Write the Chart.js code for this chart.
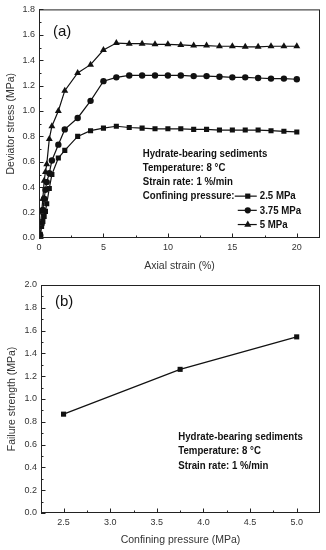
<!DOCTYPE html>
<html>
<head>
<meta charset="utf-8">
<script src="https://cdn.jsdelivr.net/npm/chart.js@4.4.1/dist/chart.umd.min.js"></script>
<style>
  html, body { margin: 0; padding: 0; background: #fff; }
  .box { position: absolute; left: 0; width: 326px; height: 275px; }
  #topBox { top: 0; }
  #bottomBox { top: 275px; }
</style>
</head>
<body>
<div class="box" id="topBox"><canvas id="stressChart"></canvas></div>
<div class="box" id="bottomBox"><canvas id="strengthChart"></canvas></div>
<script>
// (a) deviator stress vs axial strain
const axialStrain = [0.1, 0.2, 0.3, 0.4, 0.5, 0.6, 0.8, 1, 1.5, 2, 3, 4, 5, 6, 7, 8, 9, 10, 11, 12, 13, 14, 15, 16, 17, 18, 19, 20];
const stress25 = [0.03, 0.09, 0.13, 0.17, 0.21, 0.27, 0.39, 0.50, 0.63, 0.69, 0.80, 0.845, 0.865, 0.88, 0.87, 0.865, 0.86, 0.86, 0.86, 0.855, 0.855, 0.85, 0.85, 0.85, 0.85, 0.845, 0.84, 0.835];
const stress375 = [0.02, 0.11, 0.22, 0.31, 0.38, 0.44, 0.51, 0.61, 0.735, 0.855, 0.945, 1.08, 1.235, 1.265, 1.28, 1.28, 1.28, 1.28, 1.28, 1.275, 1.275, 1.27, 1.265, 1.265, 1.26, 1.255, 1.255, 1.25];
const stress5 = [0.09, 0.2, 0.31, 0.45, 0.52, 0.58, 0.78, 0.88, 1.0, 1.16, 1.30, 1.365, 1.48, 1.535, 1.53, 1.53, 1.525, 1.525, 1.52, 1.515, 1.515, 1.51, 1.51, 1.505, 1.505, 1.51, 1.51, 1.51];
const seriesLabels = ['2.5 MPa', '3.75 MPa', '5 MPa'];
const strainTicks = [0, 5, 10, 15, 20];
const stressTicks = [0, 0.2, 0.4, 0.6, 0.8, 1.0, 1.2, 1.4, 1.6, 1.8];

// (b) failure strength vs confining pressure
const confiningPressure = [2.5, 3.75, 5.0];
const failureStrength = [0.867, 1.26, 1.545];
const pressureTicks = [2.5, 3.0, 3.5, 4.0, 4.5, 5.0];
const strengthTicks = [0, 0.2, 0.4, 0.6, 0.8, 1.0, 1.2, 1.4, 1.6, 1.8, 2.0];

const FONT = "'Liberation Sans', Arial, sans-serif";
const INK = '#111';

function toPoints(xs, ys) {
    return xs.map((x, i) => ({ x: x, y: ys[i] }));
}

function minorsOf(ticks) {
    const out = [];
    for (let i = 0; i < ticks.length - 1; i++) out.push((ticks[i] + ticks[i + 1]) / 2);
    return out;
}

// draw a marker by hand for the legend
function marker(ctx, style, x, y) {
    ctx.beginPath();
    if (style === 'rect') {
        ctx.rect(x - 2.6, y - 2.6, 5.2, 5.2);
    } else if (style === 'circle') {
        ctx.arc(x, y, 3.1, 0, Math.PI * 2);
    } else {
        ctx.moveTo(x, y - 4);
        ctx.lineTo(x + 3.5, y + 2.2);
        ctx.lineTo(x - 3.5, y + 2.2);
        ctx.closePath();
    }
    ctx.fill();
}

// narrow bold text like the original figure
function narrowText(ctx, text, x, y) {
    ctx.save();
    ctx.translate(x, y);
    ctx.scale(0.84, 1);
    ctx.fillText(text, 0, 0);
    ctx.restore();
}

// frame, inward ticks, panel letter and notes
const framePlugin = {
    id: 'frame',
    afterDraw(chart, args, opts) {
        const ctx = chart.ctx;
        const area = chart.chartArea;
        const xs = chart.scales.x;
        const ys = chart.scales.y;
        ctx.save();
        ctx.strokeStyle = '#222';
        ctx.lineWidth = 1;
        ctx.strokeRect(area.left + 0.5, area.top + 0.5, area.right - area.left - 1, area.bottom - area.top - 1);

        ctx.beginPath();
        opts.xMajor.forEach(v => {
            const px = Math.round(xs.getPixelForValue(v)) + 0.5;
            ctx.moveTo(px, area.bottom); ctx.lineTo(px, area.bottom - 4.5);
        });
        opts.xMinor.forEach(v => {
            const px = Math.round(xs.getPixelForValue(v)) + 0.5;
            ctx.moveTo(px, area.bottom); ctx.lineTo(px, area.bottom - 2.5);
        });
        opts.yMajor.forEach(v => {
            const py = Math.round(ys.getPixelForValue(v)) + 0.5;
            ctx.moveTo(area.left, py); ctx.lineTo(area.left + 4.5, py);
        });
        opts.yMinor.forEach(v => {
            const py = Math.round(ys.getPixelForValue(v)) + 0.5;
            ctx.moveTo(area.left, py); ctx.lineTo(area.left + 2.5, py);
        });
        ctx.stroke();

        // panel letter
        ctx.fillStyle = INK;
        ctx.font = '15px ' + FONT;
        ctx.textBaseline = 'middle';
        ctx.textAlign = 'left';
        ctx.fillText(opts.letter, area.left + 14, area.top + opts.letterDy);

        // notes
        ctx.font = 'bold 11.5px ' + FONT;
        const nx = xs.getPixelForValue(opts.noteX);
        const ny = ys.getPixelForValue(opts.noteY);
        opts.notes.forEach((t, i) => narrowText(ctx, t, nx, ny + i * 14.2));

        // legend rows, first one sits on the "Confining pressure:" line
        if (opts.legend) {
            const lx = nx + 95;
            chart.data.datasets.forEach((ds, i) => {
                const y = ny + (opts.notes.length - 1 + i) * 14.2;
                const x0 = i === 0 ? lx - 3 : lx;
                ctx.strokeStyle = INK;
                ctx.lineWidth = 1.2;
                ctx.beginPath();
                ctx.moveTo(x0, y); ctx.lineTo(lx + 19, y);
                ctx.stroke();
                ctx.fillStyle = INK;
                marker(ctx, ds.pointStyle, lx + 10, y);
                narrowText(ctx, ds.label, lx + 22, y);
            });
        }
        ctx.restore();
    }
};

function lineSet(label, data, style, radius) {
    return {
        label: label,
        data: data,
        borderColor: INK,
        backgroundColor: INK,
        borderWidth: 1.2,
        pointStyle: style,
        pointRadius: radius,
        pointBorderWidth: 0,
        pointBackgroundColor: INK,
        tension: 0
    };
}

function axisTicks(list, digits) {
    return {
        afterBuildTicks: s => { s.ticks = list.map(v => ({ value: v })); },
        ticks: {
            color: '#333',
            font: { family: FONT, size: 9 },
            padding: 4,
            autoSkip: false,
            maxRotation: 0,
            callback: v => Number(v).toFixed(digits)
        }
    };
}

new Chart(document.getElementById('stressChart'), {
    type: 'line',
    data: {
        datasets: [
            lineSet(seriesLabels[0], toPoints(axialStrain, stress25), 'rect', 3.6),
            lineSet(seriesLabels[1], toPoints(axialStrain, stress375), 'circle', 3.2),
            lineSet(seriesLabels[2], toPoints(axialStrain, stress5), 'triangle', 4)
        ]
    },
    options: {
        responsive: true,
        maintainAspectRatio: false,
        animation: false,
        layout: { padding: { top: 8, right: 6, left: 0, bottom: 0 } },
        plugins: {
            legend: { display: false },
            tooltip: { enabled: false },
            frame: {
                letter: '(a)',
                letterDy: 22,
                xMajor: strainTicks,
                xMinor: minorsOf(strainTicks),
                yMajor: stressTicks,
                yMinor: minorsOf(stressTicks),
                noteX: 8.05,
                noteY: 0.665,
                notes: ['Hydrate-bearing sediments', 'Temperature: 8 \u00B0C', 'Strain rate: 1 %/min', 'Confining pressure:'],
                legend: true
            }
        },
        scales: {
            x: Object.assign({
                type: 'linear',
                min: 0,
                max: 21.8,
                grid: { display: false, drawTicks: false },
                border: { display: false },
                afterFit: s => { s.height = 37; },
                title: { display: true, text: 'Axial strain (%)', color: '#333', font: { family: FONT, size: 10.5 }, padding: { top: 0, bottom: 3 } }
            }, axisTicks(strainTicks, 0)),
            y: Object.assign({
                min: 0,
                max: 1.8,
                grid: { display: false, drawTicks: false },
                border: { display: false },
                afterFit: s => { s.width = 39; },
                title: { display: true, text: 'Deviator stress (MPa)', color: '#333', font: { family: FONT, size: 10.5 }, padding: { top: 5, bottom: 0 } }
            }, axisTicks(stressTicks, 1))
        }
    },
    plugins: [framePlugin]
});

new Chart(document.getElementById('strengthChart'), {
    type: 'line',
    data: {
        datasets: [
            lineSet('Failure strength', toPoints(confiningPressure, failureStrength), 'rect', 3.6)
        ]
    },
    options: {
        responsive: true,
        maintainAspectRatio: false,
        animation: false,
        layout: { padding: { top: 10, right: 6, left: 0, bottom: 0 } },
        plugins: {
            legend: { display: false },
            tooltip: { enabled: false },
            frame: {
                letter: '(b)',
                letterDy: 17,
                xMajor: pressureTicks,
                xMinor: minorsOf(pressureTicks),
                yMajor: strengthTicks,
                yMinor: minorsOf(strengthTicks),
                noteX: 3.73,
                noteY: 0.666,
                notes: ['Hydrate-bearing sediments', 'Temperature: 8 \u00B0C', 'Strain rate: 1 %/min'],
                legend: false
            }
        },
        scales: {
            x: Object.assign({
                type: 'linear',
                min: 2.258,
                max: 5.25,
                grid: { display: false, drawTicks: false },
                border: { display: false },
                afterFit: s => { s.height = 37; },
                title: { display: true, text: 'Confining pressure (MPa)', color: '#333', font: { family: FONT, size: 10.5 }, padding: { top: 0, bottom: 4 } }
            }, axisTicks(pressureTicks, 1)),
            y: Object.assign({
                min: 0,
                max: 2.0,
                grid: { display: false, drawTicks: false },
                border: { display: false },
                afterFit: s => { s.width = 41; },
                title: { display: true, text: 'Failure strength (MPa)', color: '#333', font: { family: FONT, size: 10.5 }, padding: { top: 6, bottom: 0 } }
            }, axisTicks(strengthTicks, 1))
        }
    },
    plugins: [framePlugin]
});
</script>
</body>
</html>
